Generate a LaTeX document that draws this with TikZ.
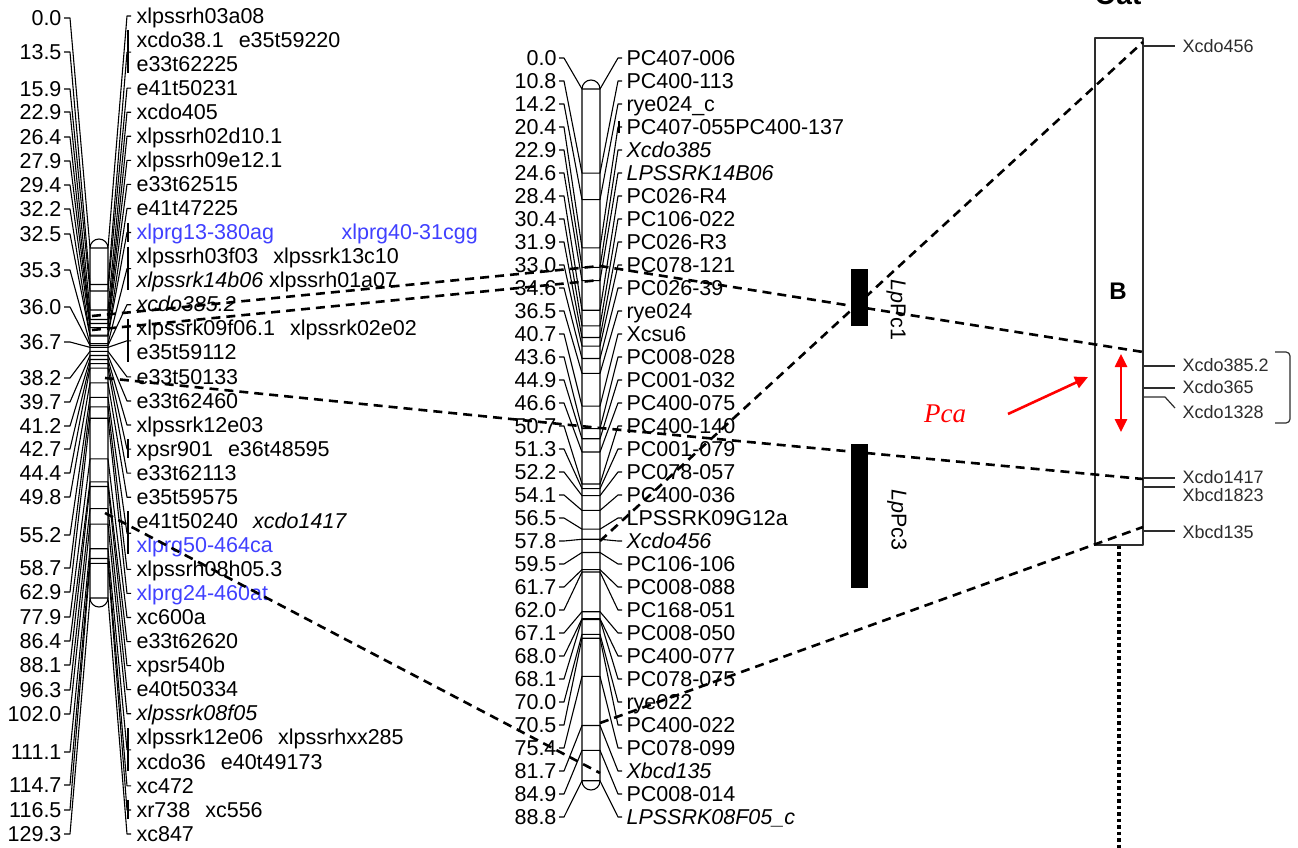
\documentclass[tikz,border=0pt]{standalone}
\usepackage{fontspec}
\setmainfont{Liberation Sans}
\newfontfamily\pcafont{Liberation Serif}
\usepackage{xcolor}
\usepackage{tikz}
\usetikzlibrary{arrows.meta,positioning}

\definecolor{mapblue}{RGB}{64,64,255}
\definecolor{oatgray}{RGB}{45,45,45}
\newcommand{\gp}{\hspace{15pt}}
\newcommand{\bl}[1]{\textcolor{mapblue}{#1}}

\begin{document}
\begin{tikzpicture}[x=1pt, y=-1pt,
        line width=1.1pt, line join=round,
        cmpos/.style={anchor=mid east, inner sep=0pt, yshift=-4.5pt, font=\fontsize{21.5}{24}\selectfont},
        mlabel/.style={anchor=mid west, inner sep=0pt, yshift=-4.5pt, font=\fontsize{21.5}{24}\selectfont},
        chrom/.style={draw, fill=white, line width=1.1pt},
        link/.style={line width=2.6pt, dash pattern=on 9pt off 6pt},
        qtl/.style={fill=black, draw=none, inner sep=0pt},
        qtllabel/.style={rotate=-90, inner sep=0pt, font=\fontsize{21.5}{24}\selectfont},
        oatlabel/.style={anchor=mid west, inner sep=0pt, yshift=-3.5pt, text=oatgray, font=\fontsize{18}{20}\selectfont},
        oattick/.style={draw=oatgray, line width=1.2pt},
        redarrow/.style={draw=red, line width=2.6pt},
        >={Triangle[length=13pt, width=12pt]}]

        \useasboundingbox (0,0) rectangle (1298,848);

        % Left map
        \draw[chrom] (90,248) arc (180:360:9) -- (108,598) arc (0:180:9) -- cycle;
        \foreach \p/\ly/\ra/\rb/\br [count=\i] in {
            0.0/18/0/0/0, 13.5/52/1/2/1, 15.9/89/3/3/0, 22.9/112/4/4/0, 26.4/137/5/5/0,
            27.9/161/6/6/0, 29.4/185/7/7/0, 32.2/209/8/8/0, 32.5/234/9/9/1, 35.3/270/10/11/1,
            36.0/307/12/12/0, 36.7/342/13/14/1, 38.2/378/15/15/0, 39.7/402/16/16/0,
            41.2/426/17/17/0, 42.7/449/18/18/1, 44.4/473/19/19/0, 49.8/497/20/20/0,
            55.2/535/21/22/1, 58.7/568/23/23/0, 62.9/592/24/24/0, 77.9/617/25/25/0,
            86.4/641/26/26/0, 88.1/665/27/27/0, 96.3/690/28/28/0, 102.0/714/29/29/0,
            111.1/752/30/31/1, 114.7/785/32/32/0, 116.5/810/33/33/1, 129.3/834/34/34/0}{
            \pgfmathsetmacro\py{248+2.707*\p}
            \pgfmathsetmacro\ry{16+12.03*(\ra+\rb)}
            \node[cmpos] (lpos\i) at (62,\ly) {\p};
            \draw (64,\ly) -- (70,\ly) -- (90,\py) -- (108,\py) -- (127,\ry) -- (131,\ry);
            \ifnum\br=1
                \draw (128,{16+24.06*\ra-10}) -- (128,{16+24.06*\rb+9});
            \fi
        }
        \foreach \k/\txt in {0/xlpssrh03a08, 1/xcdo38.1\gp e35t59220, 2/e33t62225,
            3/e41t50231, 4/xcdo405, 5/xlpssrh02d10.1, 6/xlpssrh09e12.1, 7/e33t62515,
            8/e41t47225, 9/\bl{xlprg13-380ag}, 10/xlpssrh03f03\gp xlpssrk13c10,
            11/{\textit{xlpssrk14b06} xlpssrh01a07}, 12/\textit{xcdo385.2},
            13/xlpssrk09f06.1\gp xlpssrk02e02, 14/e35t59112, 15/e33t50133, 16/e33t62460,
            17/xlpssrk12e03, 18/xpsr901\gp e36t48595, 19/e33t62113, 20/e35t59575,
            21/e41t50240\gp\textit{xcdo1417}, 22/\bl{xlprg50-464ca}, 23/xlpssrh08h05.3,
            24/\bl{xlprg24-460at}, 25/xc600a, 26/e33t62620, 27/xpsr540b, 28/e40t50334,
            29/\textit{xlpssrk08f05}, 30/xlpssrk12e06\gp xlpssrhxx285,
            31/xcdo36\gp e40t49173, 32/xc472, 33/xr738\gp xc556, 34/xc847}{
            \node[mlabel] (lmk\k) at (136,{16+24.06*\k}) {\txt};
        }
        \node[mlabel] (lmk9b) at (341,232.5) {\bl{xlprg40-31cgg}};

        % Middle map
        \draw[chrom] (582,89) arc (180:360:9) -- (600,781) arc (0:180:9) -- cycle;
        \foreach \p/\txt [count=\k from 0] in {0.0/PC407-006, 10.8/PC400-113, 14.2/rye024\_c,
            20.4/PC407-055PC400-137, 22.9/\textit{Xcdo385}, 24.6/\textit{LPSSRK14B06},
            28.4/PC026-R4, 30.4/PC106-022, 31.9/PC026-R3, 33.0/PC078-121, 34.6/PC026-39,
            36.5/rye024, 40.7/Xcsu6, 43.6/PC008-028, 44.9/PC001-032, 46.6/PC400-075,
            50.7/PC400-140, 51.3/PC001-079, 52.2/PC078-057, 54.1/PC400-036,
            56.5/LPSSRK09G12a, 57.8/\textit{Xcdo456}, 59.5/PC106-106, 61.7/PC008-088,
            62.0/PC168-051, 67.1/PC008-050, 68.0/PC400-077, 68.1/PC078-075, 70.0/rye022,
            70.5/PC400-022, 75.4/PC078-099, 81.7/\textit{Xbcd135}, 84.9/PC008-014,
            88.8/\textit{LPSSRK08F05\_c}}{
            \pgfmathsetmacro\py{89+7.79*\p}
            \pgfmathsetmacro\ly{58+23*\k}
            \node[cmpos] (mpos\k) at (557,\ly) {\p};
            \node[mlabel] (mmk\k) at (626,\ly) {\txt};
            \draw (559,\ly) -- (564,\ly) -- (582,\py) -- (600,\py) -- (618,\ly) -- (622,\ly);
        }
        \draw (619,121) -- (619,133);

        % QTL bars
        \node[qtl, minimum width=17, minimum height=57] (pc1) at (859.5,297.5) {};
        \node[qtl, minimum width=17, minimum height=144] (pc3) at (859.5,516) {};
        \node[qtllabel] (pc1lab) at (896,310) {\textit{Lp}Pc1};
        \node[qtllabel] (pc3lab) at (897,520) {\textit{Lp}Pc3};

        % Oat chromosome
        \node[font=\bfseries\fontsize{28}{30}\selectfont, anchor=base] (oattitle) at (1118,5) {Oat};
        \node[draw=oatgray, line width=1.4pt, minimum width=48, minimum height=507, inner sep=0pt] (oat) at (1119,291.5) {};
        \node[font=\bfseries\fontsize{24}{26}\selectfont] (oatB) at (1118,291) {B};
        \draw[line width=4.5pt, dash pattern=on 3.5pt off 3pt] (oat.south) -- ++(0,303);

        \draw[oattick] (1143,46) -- (1175,46);
        \draw[oattick] (1143,366) -- (1175,366);
        \draw[oattick] (1143,388) -- (1175,388);
        \draw[oattick] (1143,397) -- (1165,397) -- (1175,408);
        \draw[oattick] (1143,478) -- (1175,478);
        \draw[oattick] (1143,487) -- (1175,487);
        \draw[oattick] (1143,531) -- (1175,531);
        \node[oatlabel] (o456) at (1182,46) {Xcdo456};
        \node[oatlabel] (o385) at (1182,365) {Xcdo385.2};
        \node[oatlabel] (o365) at (1182,387) {Xcdo365};
        \node[oatlabel] (o1328) at (1182,412) {Xcdo1328};
        \node[oatlabel] (o1417) at (1182,477) {Xcdo1417};
        \node[oatlabel] (o1823) at (1182,495) {Xbcd1823};
        \node[oatlabel] (o135) at (1182,532) {Xbcd135};
        \draw[oattick, rounded corners=4pt] (1275,352) -- (1290,352) -- (1290,423) -- (1275,423);

        % Pca
        \node[text=red, font=\pcafont\itshape\fontsize{27}{29}\selectfont] (pca) at (945,414) {Pca};
        \coordinate (pcatail) at (1008,414);
        \coordinate (pcatip) at (1088,377);
        \coordinate (rngtop) at (1121,354);
        \coordinate (rngbot) at (1121,432);
        \draw[redarrow, ->] (pcatail) -- (pcatip);
        \draw[redarrow, <->] (rngtop) -- (rngbot);

        % Links
        \coordinate (a1) at (92,316);
        \coordinate (a2) at (600,266);
        \coordinate (a3) at (1143,352);
        \coordinate (b1) at (92,330);
        \coordinate (b2) at (600,280);
        \coordinate (c1) at (105,378);
        \coordinate (c2) at (600,428);
        \coordinate (c3) at (1143,479);
        \coordinate (d1) at (105,513);
        \coordinate (d2) at (600,773);
        \coordinate (e1) at (600,541);
        \coordinate (e2) at (1143,42);
        \coordinate (f1) at (600,723);
        \coordinate (f2) at (1143,527);
        \draw[link] (a1) -- (a2) -- (a3);
        \draw[link] (b1) -- (b2);
        \draw[link] (c1) -- (c2) -- (c3);
        \draw[link] (d1) -- (d2);
        \draw[link] (e1) -- (e2);
        \draw[link] (f1) -- (f2);

    \end{tikzpicture}
\end{document}
